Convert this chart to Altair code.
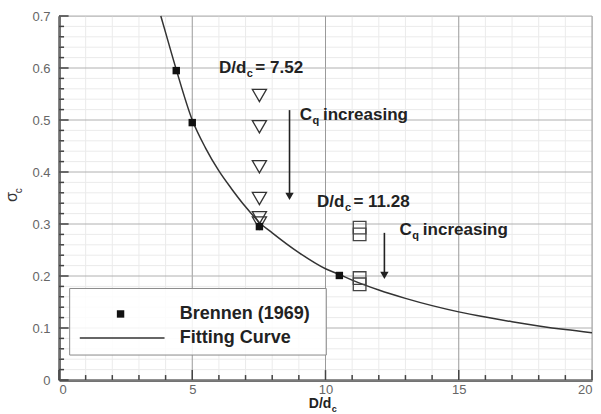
import altair as alt
import pandas as pd

# Brennen (1969) measurements
brennen_x = [4.40, 5.00, 7.52, 10.52]
brennen_y = [0.595, 0.495, 0.295, 0.201]

# Fitting curve read along its length
curve_x = [3.82, 4.0, 4.4, 5.0, 5.5, 6.0, 6.5, 7.0, 7.52, 8.0, 9.0, 10.0, 10.52,
           11.0, 12.0, 13.0, 14.0, 15.0, 16.0, 17.0, 18.0, 19.0, 20.0]
curve_y = [0.700, 0.668, 0.597, 0.500, 0.446, 0.402, 0.366, 0.333, 0.303, 0.283,
           0.245, 0.214, 0.203, 0.192, 0.173, 0.157, 0.143, 0.131, 0.121, 0.112,
           0.104, 0.097, 0.091]

# Present runs, D/dc = 7.52 (triangles) and D/dc = 11.28 (squares)
tri_x = [7.52, 7.52, 7.52, 7.52, 7.52, 7.52]
tri_y = [0.547, 0.487, 0.410, 0.349, 0.312, 0.302]
sq_x = [11.28, 11.28, 11.28, 11.28]
sq_y = [0.293, 0.280, 0.196, 0.184]

# Axis ticks
x_major = [0, 5, 10, 15, 20]
x_minor = [v for v in range(0, 21) if v % 5 != 0]
y_major = [0.0, 0.1, 0.2, 0.3, 0.4, 0.5, 0.6, 0.7]
y_minor = [round(i * 0.02, 2) for i in range(0, 36) if i % 5 != 0]

FONT = "Liberation Sans"
INK = "#222222"
XS = alt.Scale(domain=[0, 20], nice=False, zero=False)
YS = alt.Scale(domain=[0, 0.7], nice=False, zero=False)

# identical axis definitions on every layer so they merge into one axis each
XA = alt.Axis(values=x_major, title=None, grid=False, ticks=False,
              domainColor="#444444", domainWidth=2.5,
              labelFont=FONT, labelFontSize=13, labelColor="#666666",
              labelPadding=3, format="d")
YA = alt.Axis(values=y_major, title=None, grid=False, ticks=False,
              domainColor="#444444", domainWidth=2.5,
              labelFont=FONT, labelFontSize=13, labelColor="#666666",
              labelPadding=9,
              labelExpr="datum.value == 0 ? '0' : format(datum.value, '.1f')")

one = pd.DataFrame({"k": [0]})


def X(field="x"):
    return alt.X(f"{field}:Q", scale=XS, axis=XA)


def Y(field="y"):
    return alt.Y(f"{field}:Q", scale=YS, axis=YA)


# minor and major grid
minor_v = alt.Chart(pd.DataFrame({"x": x_minor})).mark_rule(color="#ebebeb", strokeWidth=1).encode(x=X())
minor_h = alt.Chart(pd.DataFrame({"y": y_minor})).mark_rule(color="#ebebeb", strokeWidth=1).encode(y=Y())
major_v = alt.Chart(pd.DataFrame({"x": x_major})).mark_rule(color="#9a9a9a", strokeWidth=1).encode(x=X())
major_h = alt.Chart(pd.DataFrame({"y": y_major})).mark_rule(color="#b0b0b0", strokeWidth=1).encode(y=Y())


# inward ticks along the bottom and left axes
def xticks(vals, length):
    d = pd.DataFrame({"x": vals, "y": 0.0, "y2": length})
    return alt.Chart(d).mark_rule(color="#444444", strokeWidth=1.5).encode(x=X(), y=Y(), y2="y2:Q")


def yticks(vals, length):
    d = pd.DataFrame({"y": vals, "x": 0.0, "x2": length})
    return alt.Chart(d).mark_rule(color="#444444", strokeWidth=1.5).encode(y=Y(), x=X(), x2="x2:Q")


ticks = [xticks(x_major, 0.019), xticks(x_minor, 0.0095),
         yticks(y_major, 0.36), yticks(y_minor, 0.19)]

curve = alt.Chart(pd.DataFrame({"x": curve_x, "y": curve_y})).mark_line(
    color="#333333", strokeWidth=1.5, interpolate="monotone").encode(x=X(), y=Y())

brennen = alt.Chart(pd.DataFrame({"x": brennen_x, "y": brennen_y})).mark_point(
    shape="square", filled=True, color="#111111", size=55, opacity=1).encode(x=X(), y=Y())

tris = alt.Chart(pd.DataFrame({"x": tri_x, "y": tri_y})).mark_point(
    shape="triangle-down", filled=False, color="#333333", strokeWidth=1.3, size=200, opacity=1).encode(x=X(), y=Y())

squares = alt.Chart(pd.DataFrame({"x": sq_x, "y": sq_y})).mark_point(
    shape="square", filled=False, color="#444444", strokeWidth=1.3, size=160, opacity=1).encode(x=X(), y=Y())

# arrows showing increasing Cq
arrow_x = [8.65, 12.21]
arrow_top = [0.519, 0.283]
arrow_tip = [0.344, 0.192]
arr = pd.DataFrame({"x": arrow_x, "y": arrow_top, "y2": [t + 0.008 for t in arrow_tip],
                    "yh": [t + 0.009 for t in arrow_tip]})
arrow_shaft = alt.Chart(arr).mark_rule(color="#222222", strokeWidth=1.6).encode(x=X(), y=Y(), y2="y2:Q")
arrow_head = alt.Chart(arr).mark_point(shape="triangle-down", filled=True, color="#222222",
                                       size=70, opacity=1).encode(x=X(), y=Y("yh"))


def label(text, x, y, size, dx=0, dy=0, align="left", weight="bold", angle=0, color=INK, baseline="alphabetic"):
    d = pd.DataFrame({"x": [x], "y": [y], "t": [text]})
    kw = dict(align=align, baseline=baseline, dx=dx, dy=dy, font=FONT, fontSize=size,
              fontWeight=weight, color=color)
    if angle:
        kw["angle"] = angle
    return alt.Chart(d).mark_text(**kw).encode(x=X(), y=Y(), text="t:N")


# annotations: main text, subscript, trailing text around a shared anchor
notes = [
    label("D/d", 7.03, 0.590, 17, align="right"),
    label("c", 7.03, 0.590, 11, dx=0.5, dy=4),
    label("= 7.52", 7.03, 0.590, 17, dx=9),
    label("C", 9.49, 0.500, 17, align="right"),
    label("q", 9.49, 0.500, 11, dx=0.5, dy=4),
    label("increasing", 9.49, 0.500, 17, dx=11),
    label("D/d", 10.71, 0.333, 17, align="right"),
    label("c", 10.71, 0.333, 11, dx=0.5, dy=4),
    label("= 11.28", 10.71, 0.333, 17, dx=9),
    label("C", 13.24, 0.279, 17, align="right"),
    label("q", 13.24, 0.279, 11, dx=0.5, dy=4),
    label("increasing", 13.24, 0.279, 17, dx=11),
    # axis titles
    label("D/d", 10.22, -0.054, 14, align="right"),
    label("c", 10.22, -0.054, 9, dx=0.5, dy=4),
    label("σ", -1.77, 0.352, 16, align="center", baseline="middle", weight="normal", angle=270, color="#333333"),
    label("c", -1.50, 0.364, 10, align="center", baseline="middle", weight="normal", angle=270, color="#333333"),
]

# legend
legend_box = alt.Chart(one).mark_rect(fill="white", fillOpacity=0.85, stroke="#8a8a8a", strokeWidth=1).encode(
    x=alt.datum(0.40, scale=XS, axis=XA), x2=alt.datum(10.03),
    y=alt.datum(0.176, scale=YS, axis=YA), y2=alt.datum(0.048))
legend_sym = alt.Chart(one).mark_point(shape="square", filled=True, color="#111111", size=55, opacity=1).encode(
    x=alt.datum(2.31, scale=XS, axis=XA), y=alt.datum(0.127, scale=YS, axis=YA))
legend_line = alt.Chart(one).mark_rule(color="#333333", strokeWidth=1.5).encode(
    x=alt.datum(0.78, scale=XS, axis=XA), x2=alt.datum(3.96), y=alt.datum(0.081, scale=YS, axis=YA))
legend_txt = [
    label("Brennen (1969)", 4.53, 0.127, 18, baseline="middle"),
    label("Fitting Curve", 4.53, 0.081, 18, baseline="middle"),
]

chart = alt.layer(
    minor_v, minor_h, major_v, major_h, *ticks,
    legend_box, legend_sym, legend_line, *legend_txt,
    curve, tris, squares, brennen, arrow_shaft, arrow_head, *notes,
).properties(
    width=533, height=364,
    autosize=alt.AutoSizeParams(type="none"),
    padding={"left": 59, "top": 16, "right": 9, "bottom": 34},
).configure_view(stroke=None).configure(background="white")

chart.save("out.html", embed_options={"renderer": "svg", "actions": False})
